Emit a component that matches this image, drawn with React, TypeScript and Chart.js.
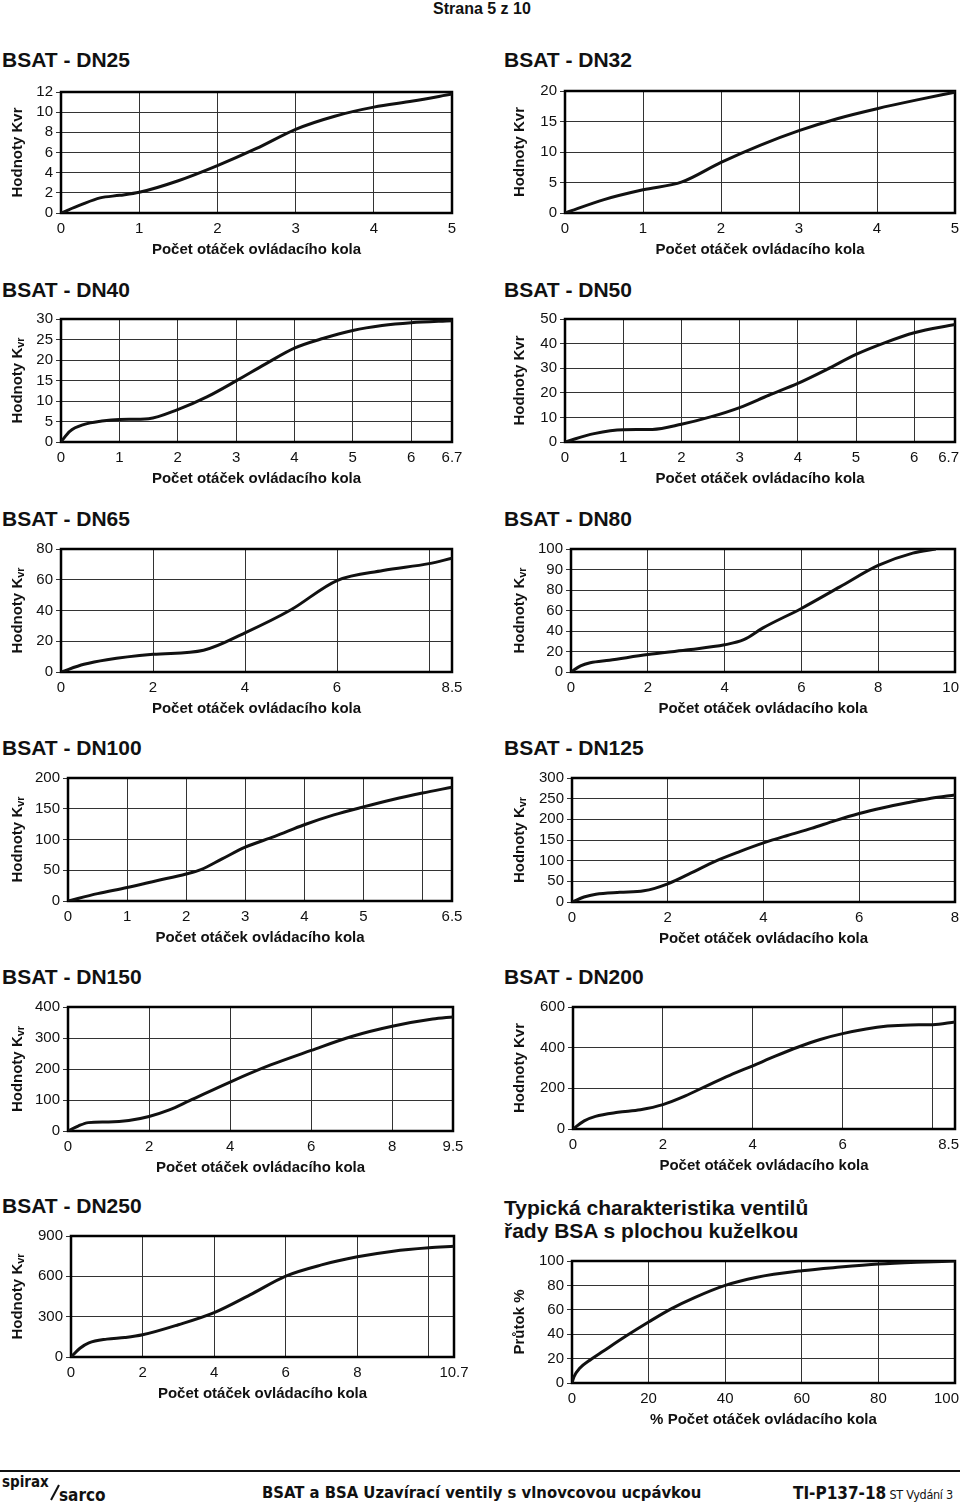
import React, { useEffect, useRef } from "react";
import { Chart, registerables } from "chart.js";
Chart.register(...registerables);

const FONT = '"Liberation Sans", Arial, Helvetica, sans-serif';
const NARROW = '"Liberation Sans Narrow", "DejaVu Sans Condensed", "Liberation Sans", sans-serif';

const X_TITLE = "Počet otáček ovládacího kola";

// ---- DN25 ----
const dn25Turns = [0, 0.25, 0.5, 0.75, 1, 1.5, 2, 2.5, 3, 3.5, 4, 4.5, 5];
const dn25Kvr = [0, 0.8, 1.5, 1.75, 2.05, 3.2, 4.7, 6.4, 8.3, 9.6, 10.5, 11.1, 11.8];
const dn25XTicks = [0, 1, 2, 3, 4, 5];
const dn25XLabels = ["0", "1", "2", "3", "4", "5"];
const dn25YTicks = [0, 2, 4, 6, 8, 10, 12];

// ---- DN32 ----
const dn32Turns = [0, 0.5, 1, 1.5, 2, 2.5, 3, 3.5, 4, 4.5, 5];
const dn32Kvr = [0, 2.2, 3.8, 5.1, 8.3, 11.1, 13.5, 15.5, 17.1, 18.5, 19.8];
const dn32XTicks = [0, 1, 2, 3, 4, 5];
const dn32XLabels = ["0", "1", "2", "3", "4", "5"];
const dn32YTicks = [0, 5, 10, 15, 20];

// ---- DN40 ----
const dn40Turns = [0, 0.15, 0.4, 0.7, 1, 1.5, 2, 2.5, 3, 3.5, 4, 4.5, 5, 5.5, 6, 6.7];
const dn40Kvr = [0, 2.6, 4.3, 5.1, 5.5, 5.7, 7.9, 11, 14.9, 19, 22.9, 25.3, 27.2, 28.4, 29.1, 29.6];
const dn40XTicks = [0, 1, 2, 3, 4, 5, 6, 6.7];
const dn40XLabels = ["0", "1", "2", "3", "4", "5", "6", "6.7"];
const dn40YTicks = [0, 5, 10, 15, 20, 25, 30];

// ---- DN50 ----
const dn50Turns = [0, 0.5, 1, 1.5, 2, 2.5, 3, 3.5, 4, 4.5, 5, 5.5, 6, 6.7];
const dn50Kvr = [0, 3.4, 5, 5.1, 7.2, 10.2, 14, 19, 23.8, 29.5, 35.6, 40.4, 44.4, 47.8];
const dn50XTicks = [0, 1, 2, 3, 4, 5, 6, 6.7];
const dn50XLabels = ["0", "1", "2", "3", "4", "5", "6", "6.7"];
const dn50YTicks = [0, 10, 20, 30, 40, 50];

// ---- DN65 ----
const dn65Turns = [0, 0.5, 1, 2, 3.1, 4, 5, 6, 7, 8, 8.5];
const dn65Kvr = [0, 5, 8, 11.5, 14.2, 25.5, 40.5, 59.5, 66, 70.5, 74];
const dn65XTicks = [0, 2, 4, 6, 8, 8.5];
const dn65XLabels = ["0", "2", "4", "6", "", "8.5"];
const dn65YTicks = [0, 20, 40, 60, 80];

// ---- DN80 ---- (grid rows are evenly spaced but labelled 0,20,40,60,80,90,100)
const dn80Turns = [0, 0.25, 0.5, 1, 2, 3, 4, 4.5, 5, 6, 7, 8, 8.9, 9.5];
const dn80Kvr = [0, 6, 9, 11.5, 17, 21.5, 26.5, 31.5, 43, 62, 81.5, 92, 98, 100];
const dn80XTicks = [0, 2, 4, 6, 8, 10];
const dn80XLabels = ["0", "2", "4", "6", "8", "10"];
const dn80YLabelValues = [0, 20, 40, 60, 80, 90, 100];

// ---- DN100 ----
const dn100Turns = [0, 0.5, 1, 1.5, 2, 2.25, 2.6, 3, 3.5, 4, 4.5, 5, 5.5, 6, 6.5];
const dn100Kvr = [0, 12, 22, 33, 44, 51, 68, 87.5, 105, 124, 140, 153, 165, 175.5, 185];
const dn100XTicks = [0, 1, 2, 3, 4, 5, 6, 6.5];
const dn100XLabels = ["0", "1", "2", "3", "4", "5", "", "6.5"];
const dn100YTicks = [0, 50, 100, 150, 200];

// ---- DN125 ----
const dn125Turns = [0, 0.25, 0.5, 1, 1.5, 2, 2.5, 3, 3.5, 4, 4.5, 5, 5.5, 6, 6.5, 7, 7.5, 8];
const dn125Kvr = [0, 12, 19, 23.5, 27, 44, 71, 99, 122, 143, 161, 178, 197, 214, 228, 240, 251, 259];
const dn125XTicks = [0, 2, 4, 6, 8];
const dn125XLabels = ["0", "2", "4", "6", "8"];
const dn125YTicks = [0, 50, 100, 150, 200, 250, 300];

// ---- DN150 ----
const dn150Turns = [0, 0.25, 0.5, 1, 1.5, 2, 2.5, 3, 4, 5, 6, 7, 8, 9, 9.5];
const dn150Kvr = [0, 16, 27, 29, 34, 47, 68, 98, 158, 213, 260, 305, 338, 361, 368];
const dn150XTicks = [0, 2, 4, 6, 8, 9.5];
const dn150XLabels = ["0", "2", "4", "6", "8", "9.5"];
const dn150YTicks = [0, 100, 200, 300, 400];

// ---- DN200 ----
const dn200Turns = [0, 0.25, 0.5, 1, 1.5, 2, 2.5, 3, 3.5, 4, 4.5, 5, 5.5, 6, 7, 7.5, 8, 8.5];
const dn200Kvr = [0, 40, 62, 82, 95, 120, 163, 215, 265, 311, 358, 402, 440, 469, 506, 512, 513, 526];
const dn200XTicks = [0, 2, 4, 6, 8, 8.5];
const dn200XLabels = ["0", "2", "4", "6", "", "8.5"];
const dn200YTicks = [0, 200, 400, 600];

// ---- DN250 ----
const dn250Turns = [0, 0.25, 0.5, 1, 1.5, 2, 3, 4, 5, 6, 7, 8, 9, 10, 10.7];
const dn250Kvr = [0, 65, 105, 133, 145, 165, 240, 330, 462, 602, 685, 745, 787, 812, 823];
const dn250XTicks = [0, 2, 4, 6, 8, 10, 10.7];
const dn250XLabels = ["0", "2", "4", "6", "8", "", "10.7"];
const dn250YTicks = [0, 300, 600, 900];

// ---- BSA typical characteristic ----
const bsaTurnsPct = [0, 0.5, 2, 5, 8, 14, 20, 26, 32, 40, 48, 60, 70, 80, 90, 100];
const bsaFlowPct = [0, 5, 12, 19.5, 25.8, 38.3, 50, 61, 70, 80, 86.5, 92, 95, 97.5, 99, 100];
const bsaXTicks = [0, 20, 40, 60, 80, 100];
const bsaXLabels = ["0", "20", "40", "60", "80", "100"];
const bsaYTicks = [0, 20, 40, 60, 80, 100];

// map a value onto evenly spaced grid rows whose labels are given
function toRowLevel(v: number, levels: number[]): number {
  for (let i = 0; i < levels.length - 1; i++) {
    if (v <= levels[i + 1]) return i + (v - levels[i]) / (levels[i + 1] - levels[i]);
  }
  return levels.length - 1;
}

type Panel = {
  title: string[];
  titleY: number;
  x0: number;
  plot: [number, number, number, number];
  xs: number[];
  ys: number[];
  xTicks: number[];
  xLabels: string[];
  yTicks: number[];
  yLabels: string[];
  yTitle: string;
  ySub: string;
  subSmall: boolean;
  xTitle: string;
};

const num = (a: number[]) => a.map((v) => String(v));

const panels: Panel[] = [
  { title: ["BSAT - DN25"], titleY: 59, x0: 0, plot: [61, 92, 452, 213], xs: dn25Turns, ys: dn25Kvr, xTicks: dn25XTicks, xLabels: dn25XLabels, yTicks: dn25YTicks, yLabels: num(dn25YTicks), yTitle: "Hodnoty K", ySub: "vr", subSmall: false, xTitle: X_TITLE },
  { title: ["BSAT - DN32"], titleY: 59, x0: 480, plot: [565, 91, 955, 213], xs: dn32Turns, ys: dn32Kvr, xTicks: dn32XTicks, xLabels: dn32XLabels, yTicks: dn32YTicks, yLabels: num(dn32YTicks), yTitle: "Hodnoty K", ySub: "vr", subSmall: false, xTitle: X_TITLE },
  { title: ["BSAT - DN40"], titleY: 289, x0: 0, plot: [61, 319, 452, 442], xs: dn40Turns, ys: dn40Kvr, xTicks: dn40XTicks, xLabels: dn40XLabels, yTicks: dn40YTicks, yLabels: num(dn40YTicks), yTitle: "Hodnoty K", ySub: "vr", subSmall: true, xTitle: X_TITLE },
  { title: ["BSAT - DN50"], titleY: 289, x0: 480, plot: [565, 319, 955, 442], xs: dn50Turns, ys: dn50Kvr, xTicks: dn50XTicks, xLabels: dn50XLabels, yTicks: dn50YTicks, yLabels: num(dn50YTicks), yTitle: "Hodnoty K", ySub: "vr", subSmall: false, xTitle: X_TITLE },
  { title: ["BSAT - DN65"], titleY: 518, x0: 0, plot: [61, 549, 452, 672], xs: dn65Turns, ys: dn65Kvr, xTicks: dn65XTicks, xLabels: dn65XLabels, yTicks: dn65YTicks, yLabels: num(dn65YTicks), yTitle: "Hodnoty K", ySub: "vr", subSmall: true, xTitle: X_TITLE },
  { title: ["BSAT - DN80"], titleY: 518, x0: 480, plot: [571, 549, 955, 672], xs: dn80Turns, ys: dn80Kvr.map((v) => toRowLevel(v, dn80YLabelValues)), xTicks: dn80XTicks, xLabels: dn80XLabels, yTicks: dn80YLabelValues.map((_, i) => i), yLabels: num(dn80YLabelValues), yTitle: "Hodnoty K", ySub: "vr", subSmall: true, xTitle: X_TITLE },
  { title: ["BSAT - DN100"], titleY: 747, x0: 0, plot: [68, 778, 452, 901], xs: dn100Turns, ys: dn100Kvr, xTicks: dn100XTicks, xLabels: dn100XLabels, yTicks: dn100YTicks, yLabels: num(dn100YTicks), yTitle: "Hodnoty K", ySub: "vr", subSmall: true, xTitle: X_TITLE },
  { title: ["BSAT - DN125"], titleY: 747, x0: 480, plot: [572, 778, 955, 902], xs: dn125Turns, ys: dn125Kvr, xTicks: dn125XTicks, xLabels: dn125XLabels, yTicks: dn125YTicks, yLabels: num(dn125YTicks), yTitle: "Hodnoty K", ySub: "vr", subSmall: true, xTitle: X_TITLE },
  { title: ["BSAT - DN150"], titleY: 976, x0: 0, plot: [68, 1007, 453, 1131], xs: dn150Turns, ys: dn150Kvr, xTicks: dn150XTicks, xLabels: dn150XLabels, yTicks: dn150YTicks, yLabels: num(dn150YTicks), yTitle: "Hodnoty K", ySub: "vr", subSmall: true, xTitle: X_TITLE },
  { title: ["BSAT - DN200"], titleY: 976, x0: 480, plot: [573, 1007, 955, 1129], xs: dn200Turns, ys: dn200Kvr, xTicks: dn200XTicks, xLabels: dn200XLabels, yTicks: dn200YTicks, yLabels: num(dn200YTicks), yTitle: "Hodnoty K", ySub: "vr", subSmall: false, xTitle: X_TITLE },
  { title: ["BSAT - DN250"], titleY: 1205, x0: 0, plot: [71, 1236, 454, 1357], xs: dn250Turns, ys: dn250Kvr, xTicks: dn250XTicks, xLabels: dn250XLabels, yTicks: dn250YTicks, yLabels: num(dn250YTicks), yTitle: "Hodnoty K", ySub: "vr", subSmall: true, xTitle: X_TITLE },
  { title: ["Typická charakteristika ventilů", "řady BSA s plochou kuželkou"], titleY: 1207, x0: 480, plot: [572, 1261, 955, 1383], xs: bsaTurnsPct, ys: bsaFlowPct, xTicks: bsaXTicks, xLabels: bsaXLabels, yTicks: bsaYTicks, yLabels: num(bsaYTicks), yTitle: "Průtok %", ySub: "", subSmall: false, xTitle: "% " + X_TITLE },
];

const TOP_PAD = 14;
const X_AXIS_H = 46;
const PAGE_W = 960;
const TICK_FONT = `15px ${FONT}`;

function KvrChart({ p }: { p: Panel }) {
  const ref = useRef<HTMLCanvasElement>(null);
  const [l, t, r, b] = p.plot;
  const canvasLeft = p.x0;
  const canvasTop = t - TOP_PAD;
  const canvasWidth = 480;
  const canvasHeight = b - t + TOP_PAD + X_AXIS_H;

  useEffect(() => {
    if (!ref.current) return;
    const yAxisW = l - canvasLeft;
    const padRight = canvasLeft + canvasWidth - r;
    const data = p.xs.map((x, i) => ({ x, y: p.ys[i] }));
    const yTitleX = p.x0 === 0 ? 16 : 38;

    const framePlugin = {
      id: "frame",
      beforeDatasetsDraw(chart: any) {
        const { ctx, chartArea: a } = chart;
        ctx.save();
        ctx.strokeStyle = "#000";
        ctx.lineWidth = 2.5;
        ctx.strokeRect(a.left, a.top, a.right - a.left, a.bottom - a.top);
        ctx.restore();
      },
      afterDraw(chart: any) {
        const { ctx, chartArea: a } = chart;
        // x tick labels (kept inside the page at the right edge)
        const xs = chart.scales.x;
        ctx.save();
        ctx.font = TICK_FONT;
        ctx.fillStyle = "#111";
        ctx.textAlign = "left";
        ctx.textBaseline = "middle";
        const maxRight = PAGE_W - canvasLeft - 1;
        p.xTicks.forEach((v, i) => {
          const lab = p.xLabels[i];
          if (!lab) return;
          const px = xs.getPixelForValue(v);
          const w = ctx.measureText(lab).width;
          let left = px - w / 2;
          if (left + w > maxRight) left = maxRight - w;
          ctx.fillText(lab, left, a.bottom + 15.5);
        });
        ctx.restore();

        // y title with subscript
        ctx.save();
        ctx.translate(yTitleX, (a.top + a.bottom) / 2);
        ctx.rotate(-Math.PI / 2);
        const mainFont = `bold 15px ${FONT}`;
        const subFont = p.subSmall ? `bold 11px ${FONT}` : mainFont;
        ctx.font = mainFont;
        const w1 = ctx.measureText(p.yTitle).width;
        ctx.font = subFont;
        const w2 = p.ySub ? ctx.measureText(p.ySub).width : 0;
        const start = -(w1 + w2) / 2;
        ctx.fillStyle = "#111";
        ctx.textAlign = "left";
        ctx.textBaseline = "alphabetic";
        ctx.font = mainFont;
        ctx.fillText(p.yTitle, start, 5.5);
        if (p.ySub) {
          ctx.font = subFont;
          ctx.fillText(p.ySub, start + w1, p.subSmall ? 8 : 5.5);
        }
        ctx.restore();
      },
    };

    const chart = new Chart(ref.current, {
      type: "line",
      data: {
        datasets: [
          {
            data,
            borderColor: "#111",
            borderWidth: 3,
            pointRadius: 0,
            tension: 0.4,
            cubicInterpolationMode: "monotone",
            fill: false,
          } as any,
        ],
      },
      options: {
        animation: false,
        responsive: false,
        events: [],
        layout: { padding: { left: 0, top: TOP_PAD, right: padRight, bottom: 0 } },
        plugins: { legend: { display: false }, tooltip: { enabled: false }, title: { display: false } },
        scales: {
          x: {
            type: "linear",
            min: 0,
            max: p.xTicks[p.xTicks.length - 1],
            afterBuildTicks: (s: any) => {
              s.ticks = p.xTicks.map((v) => ({ value: v }));
            },
            afterFit: (s: any) => {
              s.height = X_AXIS_H;
            },
            ticks: { display: false, autoSkip: false, maxRotation: 0 },
            grid: { color: "#333", lineWidth: 1, drawTicks: false },
            border: { display: false },
            title: {
              display: true,
              text: p.xTitle,
              color: "#111",
              padding: 0,
              font: { size: 15, weight: "bold", family: FONT },
            },
          },
          y: {
            type: "linear",
            min: 0,
            max: p.yTicks[p.yTicks.length - 1],
            afterBuildTicks: (s: any) => {
              s.ticks = p.yTicks.map((v) => ({ value: v }));
            },
            afterFit: (s: any) => {
              s.width = yAxisW;
            },
            ticks: {
              autoSkip: false,
              padding: 3,
              color: "#111",
              font: { size: 15, family: FONT },
              callback: (_v: any, i: number) => p.yLabels[i],
            },
            grid: { color: "#333", lineWidth: 1, drawTicks: true, tickLength: 5 },
            border: { display: false },
          },
        },
      } as any,
      plugins: [framePlugin as any],
    });
    return () => chart.destroy();
  }, []);

  return (
    <canvas
      ref={ref}
      width={canvasWidth}
      height={canvasHeight}
      style={{ position: "absolute", left: canvasLeft, top: canvasTop, width: canvasWidth, height: canvasHeight }}
    />
  );
}

function Heading({ p }: { p: Panel }) {
  const two = p.title.length > 1;
  const lh = two ? 23 : 21;
  return (
    <div
      style={{
        position: "absolute",
        left: p.x0 === 0 ? 2 : 504,
        top: p.titleY - (two ? 11 : 10),
        fontFamily: FONT,
        fontWeight: "bold",
        fontSize: 21,
        lineHeight: lh + "px",
        color: "#111",
        whiteSpace: "nowrap",
      }}
    >
      {p.title.map((s, i) => (
        <div key={i}>{s}</div>
      ))}
    </div>
  );
}

export default function App() {
  return (
    <div
      style={{
        position: "absolute",
        left: 0,
        top: 0,
        width: PAGE_W,
        height: 1506,
        overflow: "hidden",
        background: "#fff",
        fontFamily: FONT,
        color: "#111",
      }}
    >
      <div style={{ position: "absolute", left: 433, top: 0, fontSize: 16, fontWeight: "bold", lineHeight: "17px", whiteSpace: "nowrap" }}>
        Strana 5 z 10
      </div>
      {panels.map((p, i) => (
        <React.Fragment key={i}>
          <Heading p={p} />
          <KvrChart p={p} />
        </React.Fragment>
      ))}
      <div style={{ position: "absolute", left: 0, top: 1470, width: PAGE_W, height: 2, background: "#111" }} />
      <div style={{ position: "absolute", left: 2, top: 1474, fontSize: 15, fontWeight: "bold", fontFamily: NARROW, lineHeight: "16px" }}>
        spirax
      </div>
      <div
        style={{
          position: "absolute",
          left: 54,
          top: 1484,
          width: 2,
          height: 17,
          background: "#111",
          transform: "rotate(28deg)",
        }}
      />
      <div style={{ position: "absolute", left: 59, top: 1487, fontSize: 17, fontWeight: "bold", fontFamily: NARROW, lineHeight: "17px" }}>
        sarco
      </div>
      <div
        style={{
          position: "absolute",
          left: 262,
          top: 1483,
          fontSize: 16.5,
          fontWeight: "bold",
          fontFamily: NARROW,
          lineHeight: "20px",
          whiteSpace: "nowrap",
        }}
      >
        BSAT a BSA Uzavírací ventily s vlnovcovou ucpávkou
      </div>
      <div
        style={{
          position: "absolute",
          left: 793,
          top: 1483,
          fontFamily: NARROW,
          lineHeight: "20px",
          whiteSpace: "nowrap",
        }}
      >
        <span style={{ fontSize: 17, fontWeight: "bold" }}>TI-P137-18</span>
        <span style={{ fontSize: 12.5, letterSpacing: -0.3 }}> ST Vydání 3</span>
      </div>
    </div>
  );
}
